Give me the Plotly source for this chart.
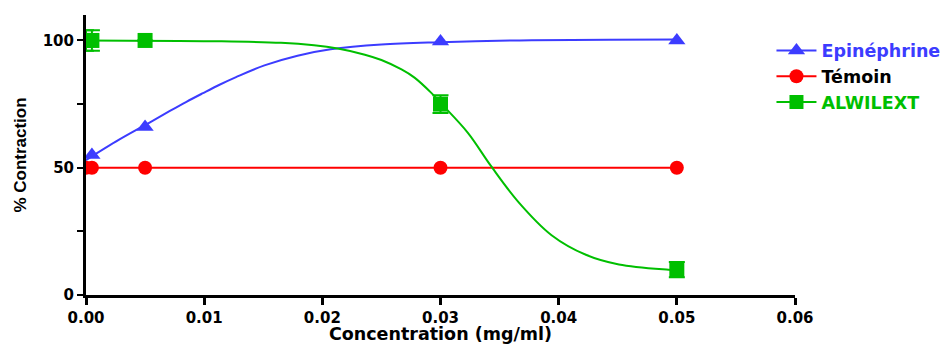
import plotly.graph_objects as go

# ---- data ----
conc = [0, 0.0005, 0.005, 0.03, 0.05]
epinephrine = [50, 55, 66, 99.6, 100]
temoin = [50, 50, 50, 50, 50]
alwilext = [100, 100, 100, 75, 10]
alwilext_err = [4, 4, 0, 3.5, 3]

# fitted curves
epi_fit_x = [0, 0.0028, 0.0051, 0.0071, 0.0085, 0.0099, 0.0113, 0.0127, 0.0151,
             0.0179, 0.0207, 0.025, 0.03, 0.0377, 0.05]
epi_fit_y = [53, 61, 67, 72.3, 75.9, 79.3, 82.6, 85.6, 90.2,
             94, 96.5, 98.4, 99.3, 100.1, 100.4]
alw_fit_x = [0, 0.0108, 0.0165, 0.0193, 0.0213, 0.0236, 0.025, 0.0267, 0.0278,
             0.0292, 0.030, 0.0323, 0.0343, 0.0366, 0.0394, 0.0423, 0.0451, 0.0493, 0.05]
alw_fit_y = [100, 99.7, 99.1, 98.1, 96.8, 94.4, 92.3, 88.6, 85.4,
             79.5, 75.5, 63.8, 50.5, 36.5, 23.5, 15.8, 12, 9.9, 9.7]

x_ticks = [0, 0.01, 0.02, 0.03, 0.04, 0.05, 0.06]
y_ticks = [0, 50, 100]
y_minor_ticks = [25, 75]

BLUE = "#3c3cff"
RED = "#ff0000"
GREEN = "#00bf00"
FONT = "DejaVu Sans"

fig = go.Figure()

# Epinephrine
fig.add_trace(go.Scatter(x=epi_fit_x, y=epi_fit_y, mode="lines",
                         line=dict(color=BLUE, width=2, shape="spline", smoothing=1.0),
                         showlegend=False, hoverinfo="skip"))
fig.add_trace(go.Scatter(x=conc, y=epinephrine, mode="markers",
                         marker=dict(symbol="triangle-up", size=15, color=BLUE),
                         showlegend=False))
fig.add_trace(go.Scatter(x=[None], y=[None], mode="lines+markers",
                         name="<b><span style='color:%s'>Epinéphrine</span></b>" % BLUE,
                         line=dict(color=BLUE, width=2),
                         marker=dict(symbol="triangle-up", size=15, color=BLUE)))

# Témoin
fig.add_trace(go.Scatter(x=conc, y=temoin, mode="lines+markers",
                         name="<b>Témoin</b>",
                         line=dict(color=RED, width=2),
                         marker=dict(symbol="circle", size=14, color=RED)))

# ALWILEXT
fig.add_trace(go.Scatter(x=alw_fit_x, y=alw_fit_y, mode="lines",
                         line=dict(color=GREEN, width=2, shape="spline", smoothing=1.0),
                         showlegend=False, hoverinfo="skip"))
fig.add_trace(go.Scatter(x=conc, y=alwilext, mode="markers",
                         marker=dict(symbol="square", size=15, color=GREEN),
                         error_y=dict(type="data", array=alwilext_err, visible=True,
                                      color=GREEN, thickness=2, width=8),
                         showlegend=False))
fig.add_trace(go.Scatter(x=[None], y=[None], mode="lines+markers",
                         name="<b><span style='color:%s'>ALWILEXT</span></b>" % GREEN,
                         line=dict(color=GREEN, width=2),
                         marker=dict(symbol="square", size=14, color=GREEN)))

fig.update_layout(
    width=943, height=344,
    margin=dict(l=86, r=148, t=15, b=49, autoexpand=False),
    paper_bgcolor="white", plot_bgcolor="white",
    font=dict(family=FONT, color="black"),
    legend=dict(xref="container", yref="container", x=0.8181, y=0.905,
                xanchor="left", yanchor="top", itemwidth=40,
                font=dict(family=FONT, size=17.5, color="black"),
                bgcolor="rgba(0,0,0,0)"),
)

fig.update_xaxes(
    range=[0, 0.06], tickvals=x_ticks, tickformat=".2f",
    showline=True, linecolor="black", linewidth=3,
    ticks="outside", ticklen=7, tickwidth=3, tickcolor="black",
    showgrid=False, zeroline=False, automargin=False,
    tickfont=dict(family=FONT, size=15, weight="bold", color="black"),
    title=dict(text="Concentration (mg/ml)", standoff=4,
               font=dict(family=FONT, size=17.5, weight="bold", color="black")),
)
fig.update_yaxes(
    range=[0, 110], tickvals=y_ticks,
    showline=True, linecolor="black", linewidth=3,
    ticks="outside", ticklen=6, tickwidth=2, tickcolor="black",
    minor=dict(tickvals=y_minor_ticks, ticks="outside", ticklen=6, tickwidth=2,
               tickcolor="black"),
    showgrid=False, zeroline=False, automargin=False,
    tickfont=dict(family=FONT, size=15, weight="bold", color="black"),
    title=dict(text="% Contraction", standoff=12,
               font=dict(family="Liberation Sans", size=17, weight="bold", color="black")),
)

fig.write_html("out.html",
               config={"displayModeBar": False},
               post_script="document.body.style.margin='0px';document.body.style.overflow='hidden';")
